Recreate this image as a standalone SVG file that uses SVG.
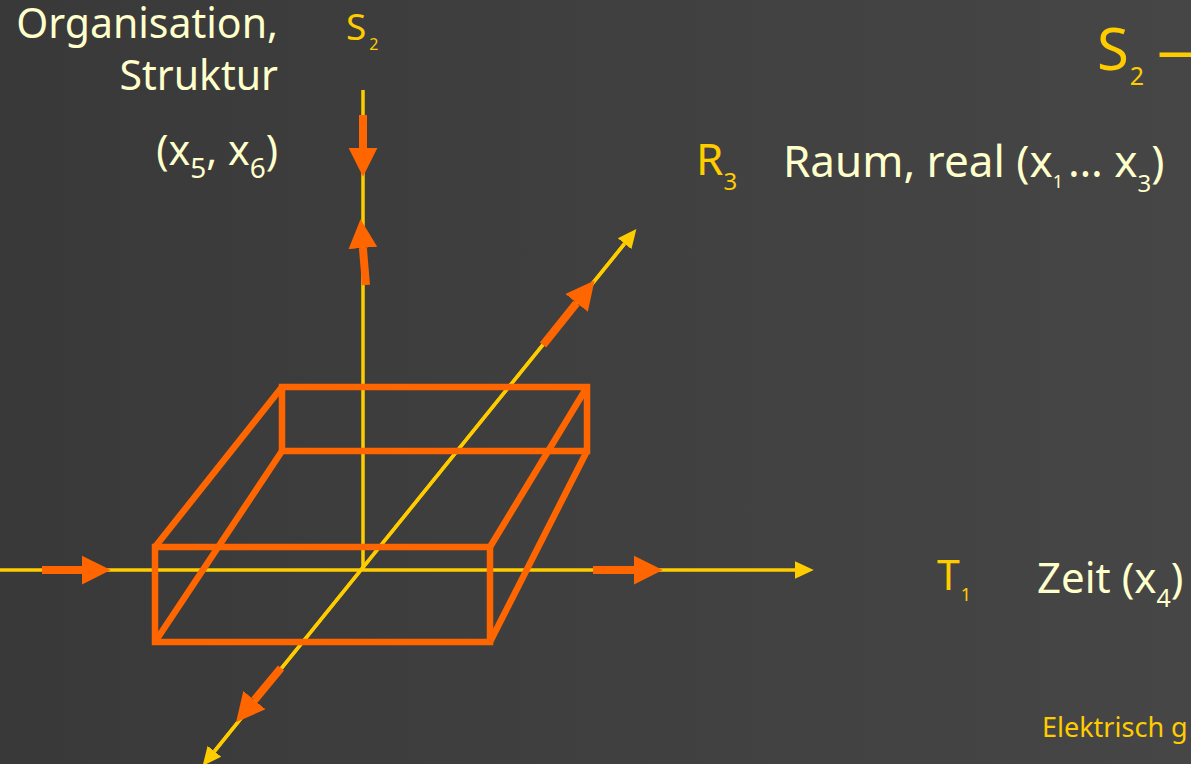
<svg xmlns="http://www.w3.org/2000/svg" width="1191" height="764" viewBox="0 0 1191 764">
  <defs>
    <linearGradient id="bg" x1="0" y1="0" x2="1" y2="0">
      <stop offset="0" stop-color="#393939"/>
      <stop offset="1" stop-color="#464646"/>
    </linearGradient>
    <marker id="ya" markerUnits="userSpaceOnUse" markerWidth="20" markerHeight="20" viewBox="0 -8 16 16" refX="0" refY="0" orient="auto">
      <path d="M0,-7 L15,0 L0,7 z" fill="#FFCC00"/>
    </marker>
    <marker id="oa" markerUnits="userSpaceOnUse" markerWidth="30" markerHeight="30" viewBox="0 -12 24 24" refX="0" refY="0" orient="auto">
      <path d="M0,-11.5 L23,0 L0,11.5 z" fill="#FF6600"/>
    </marker>
    <style>
      .axis { stroke: #FFCC00; stroke-width: 3.5; fill: none; }
      .box { stroke: #FF6600; stroke-width: 6.5; fill: none; stroke-linejoin: miter; }
      .oarr { stroke: #FF6600; stroke-width: 8; fill: none; marker-end: url(#oa); }
      .t { font-family: "Noto Sans", "Open Sans", "DejaVu Sans", sans-serif; }
      .pale { fill: #FFFFCC; }
      .yel { fill: #FFCC00; }
    </style>
  </defs>
  <rect width="1191" height="764" fill="url(#bg)"/>

  <g id="connectors">
    <g id="axes">
      <line class="axis" x1="0" y1="570" x2="795" y2="570" marker-end="url(#ya)"/>
      <line class="axis" x1="363" y1="90" x2="363" y2="570"/>
      <line class="axis" x1="214.4" y1="751.3" x2="624.6" y2="243.7" marker-end="url(#ya)"/>
      <line class="axis" x1="624.6" y1="243.7" x2="214.4" y2="751.3" marker-end="url(#ya)"/>
    </g>
  </g>

  <g id="box">
    <rect class="box" x="155" y="547" width="335" height="95"/>
    <rect class="box" x="282" y="387" width="305" height="64"/>
    <line class="box" x1="155" y1="547" x2="282" y2="387"/>
    <line class="box" x1="155" y1="642" x2="282" y2="451"/>
    <line class="box" x1="490" y1="547" x2="587" y2="387"/>
    <line class="box" x1="490" y1="642" x2="587" y2="451"/>
  </g>

  <g id="flow-arrows">
    <line class="oarr" x1="42" y1="570" x2="82" y2="570"/>
    <line class="oarr" x1="593" y1="570" x2="634" y2="570"/>
    <line class="oarr" x1="363" y1="115" x2="363" y2="148"/>
    <line class="oarr" x1="366" y1="285" x2="362.9" y2="247.9"/>
    <line class="oarr" x1="543" y1="345" x2="576.6" y2="302.9"/>
    <line class="oarr" x1="281" y1="668" x2="254.4" y2="700.1"/>
  </g>

  <g id="label-organisation" class="t pale" font-size="41" text-anchor="end">
    <text x="278" y="38">Organisation,</text>
    <text x="278" y="90">Struktur</text>
    <text x="278" y="165">(x<tspan font-size="28" dy="13">5</tspan><tspan dy="-13">, x</tspan><tspan font-size="28" dy="13">6</tspan><tspan dy="-13">)</tspan></text>
  </g>

  <g id="label-s2-axis" class="t yel">
    <text x="346" y="40" font-size="37">S<tspan font-size="16" dx="3" dy="10">2</tspan></text>
  </g>

  <g id="label-s2-title" class="t yel">
    <text x="1097" y="70" font-size="58">S<tspan font-size="25" dx="1" dy="15">2</tspan><tspan dx="13" dy="-15">—</tspan></text>
  </g>

  <g id="label-r3" class="t">
    <text class="yel" x="696" y="175" font-size="44">R<tspan font-size="24" dy="15">3</tspan></text>
    <text class="pale" x="783" y="177" font-size="44">Raum, real (x<tspan font-size="18" dy="11">1</tspan><tspan dx="5" dy="-11">… x</tspan><tspan font-size="24" dy="15">3</tspan><tspan dy="-15">)</tspan></text>
  </g>

  <g id="label-t1" class="t">
    <text class="yel" x="937" y="590" font-size="41">T<tspan font-size="18" dx="1" dy="11">1</tspan></text>
    <text class="pale" x="1037" y="593" font-size="42">Zeit (x<tspan font-size="25" dy="14">4</tspan><tspan dy="-14">)</tspan></text>
  </g>

  <g id="footer" class="t yel">
    <text x="1042" y="737" font-size="27">Elektrisch g</text>
  </g>
</svg>
